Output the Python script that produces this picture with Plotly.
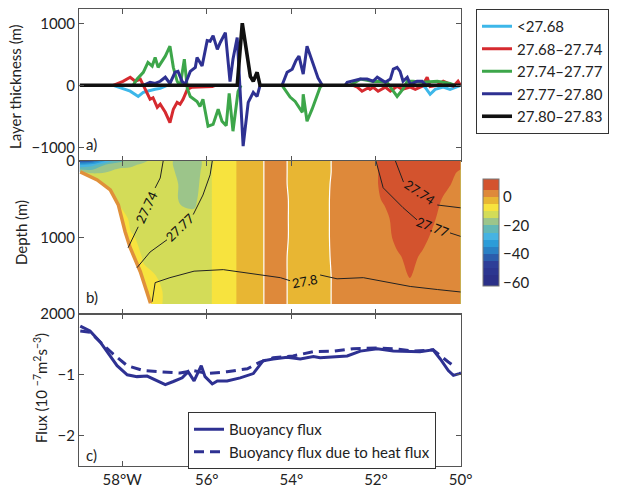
import plotly.graph_objects as go

# ---------------- Panel a: layer thickness (m) ----------------
cyan_lon = [-58.21, -57.81, -57.62, -57.50, -57.41, -57.34, -57.22, -57.10, -56.98, -56.94, None,
            -50.91, -50.84, -50.72, -50.60, -50.41, -50.25, -50.06, -50.0]
cyan_val = [0, -95, -180, -115, -95, -80, -65, -50, -15, 0, None,
            0, -30, -145, -65, -30, -65, -15, 0]

red_lon = [-58.21, -57.98, -57.81, -57.69, -57.57, -57.46, -57.34, -57.27, -57.17, -57.10, -56.98,
           -56.87, -56.79, -56.70, -56.63, -56.56, -56.46, -56.35, -56.20, -55.87, -55.80, None,
           -52.54, -52.44, -52.33, -52.18, -52.14, -52.07, -51.95, -51.78, -51.66, -51.50, -51.38,
           -51.19, -51.07, -50.91, -50.79, -50.72, -50.55, -50.41, -50.29, -50.17, -50.06, -50.0]
red_val = [0, 65, 130, 65, 100, -65, -225, -200, -355, -305, -435,
           -600, -385, -275, -305, -225, -65, -30, -30, -20, 0, None,
           0, -30, -95, -40, -65, -30, -95, -30, -95, -15, -65,
           -30, -65, -15, 130, -20, 0, 65, 30, -15, 65, 0]

green_lon = [-57.74, -57.65, -57.50, -57.39, -57.29, -57.22, -57.15, -57.05, -56.98, -56.87, -56.79,
             -56.70, -56.63, -56.53, -56.46, -56.39, -56.23, -56.16, -56.09, -55.97, -55.85, -55.73,
             -55.64, -55.54, -55.47, -55.38, -55.26, -55.19, None,
             -54.22, -54.03, -53.91, -53.84, -53.74, -53.72, -53.63, -53.51, -53.32, -53.27, None,
             -52.61, -52.37, -52.21, -52.07, -51.90, -51.74, -51.59, -51.50, -51.43, -51.36, -51.26,
             -51.12, -50.91, -50.55, -50.41, -50.25, -50.13]
green_val = [0, 100, 210, 370, 310, 450, 290, 390, 470, 630, 290,
             65, -15, 420, -50, -180, -260, -340, -225, -660, -630, -385,
             -580, -650, -130, -740, -100, 0, None,
             0, -190, -260, -340, -435, -145, -580, -385, -30, 0, None,
             0, 100, 80, 60, 60, 50, -95, -180, -120, -60, 65,
             65, 50, 65, 50, 30, 0]

blue_lon = [-57.50, -57.34, -57.22, -57.10, -56.98, -56.87, -56.75, -56.68, -56.58, -56.51, -56.39,
            -56.27, -56.23, -56.11, -55.99, -55.92, -55.85, -55.75, -55.68, -55.56, -55.45, -55.38,
            -55.28, -55.21, -55.14, -55.02, -54.90, -54.81, -54.74, None,
            -54.22, -54.10, -53.98, -53.89, -53.82, -53.72, -53.63, -53.48, -53.37, -53.27, None,
            -52.73, -52.68, -52.37, -52.21, -52.07, -51.97, -51.90, -51.78, -51.66, -51.59, -51.50,
            -51.43, -51.36, -51.26, -51.19, -51.03, -50.91, -50.84, -50.72]
blue_val = [0, 50, 30, 65, 130, 30, 210, 225, 60, 15, 225,
            290, 450, 310, 720, 710, 800, 580, 690, 850, 60, 420,
            770, -110, -980, -275, -115, -180, 0, None,
            0, 210, 260, 400, 470, 180, 630, 340, 120, 0, None,
            0, 50, 100, 100, 65, 130, 100, 50, 100, 260, 290,
            225, 65, 130, 15, 65, 65, 15, 0]

black_lon = [-59.0, -55.28, -55.16, -55.09, -55.02, -54.97, -54.90, -54.81, -54.74, -50.0]
black_val = [0, 0, 1000, 690, 290, 145, 65, 210, 0, 0]

layer_names = ["<27.68", "27.68\u201327.74", "27.74\u201327.77", "27.77\u201327.80", "27.80\u201327.83"]

# ---------------- Panel b: temperature/anomaly section ----------------
lon_grid = [-59.0, -58.7, -58.4, -58.1, -57.8, -57.5, -57.2, -56.9, -56.6, -56.3, -56.0,
            -55.7, -55.4, -55.1, -54.8, -54.5, -54.2, -53.9, -53.6, -53.3, -53.0,
            -52.7, -52.4, -52.1, -51.8, -51.5, -51.2, -50.9, -50.6, -50.3, -50.0]
depth_grid = [0, 50, 150, 300, 500, 750, 1000, 1250, 1500, 1700, 1870]
# one list per longitude column, from surface to bottom
anom_cols = [
    [-45, -30, -14, -3, -3, -3, -3, -3, -3, -3, -3],
    [-42, -27, -16, -3, -3, -3, -3, -3, -3, -3, -3],
    [-30, -20, -15, -12, -3, -3, -3, -3, -3, -3, -3],
    [-22, -17, -13, -12, -12, -3, -3, -3, -3, -3, -3],
    [-18, -16, -13, -12, -12, -12, -9, -3, -3, -3, -3],
    [-16, -14, -12, -12, -12, -12, -12, -11, -8, -3, -3],
    [-13, -13, -12, -12, -12, -12, -12, -11, -10, -8, -8],
    [-14, -14, -13, -12, -12, -12, -12, -12, -12, -12, -12],
    [-17, -17, -17, -16, -16, -13, -12, -12, -12, -12, -12],
    [-18, -18, -18, -17, -16, -14, -12, -12, -12, -12, -12],
    [-13, -13, -12, -12, -12, -12, -12, -12, -12, -12, -12],
    [-7, -7, -7, -7, -7, -7, -7, -7, -7, -7, -7],
    [-6, -6, -6, -6, -6, -6, -6, -6, -6, -6, -6],
    [-3, -3, -3, -3, -3, -3, -3, -3, -3, -3, -3],
    [-2, -2, -2, -2, -2, -2, -2, -2, -2, -2, -2],
    [2, 2, 2, 2, 2, 2, 2, 2, 2, 2, 2],
    [1, 1, 1, 1, 1.5, 1.5, 1.5, 1, 1, 1, 1],
    [-2, -2, -2, -2, -2, -2, -2, -2, -2, -2, -2],
    [-3, -3, -3, -3, -3, -3, -3, -3, -3, -3, -3],
    [-2, -2, -2, -2, -2, -2, -2, -2, -2, -2, -2],
    [0.5, 0.5, 0.5, 0.8, 1, 1, 1, 0.8, 0.5, 0.5, 0.5],
    [2, 2, 2, 2, 2, 2, 2, 2, 2, 2, 2],
    [3, 3, 3, 3, 3, 3, 3, 3, 3, 3, 3],
    [3.5, 3.5, 3, 3, 2.5, 2, 2, 2, 2, 2, 2],
    [7, 7, 7, 7, 6, 3, 2, 2, 2, 2, 2],
    [8, 8, 8, 8, 8, 8, 7, 4, 2, 2, 2],
    [8, 8, 8, 8, 8, 8, 8, 7, 5.5, 2, 2],
    [8, 8, 8, 8, 8, 8, 7, 4, 2, 2, 2],
    [8, 8, 8, 8, 7, 5.2, 3, 2, 2, 2, 2],
    [8, 8, 7, 6, 3, 2, 2, 2, 2, 2, 2],
    [7, 6.5, 4, 2, 2, 2, 2, 2, 2, 2, 2],
]
anom_levels = [-60, -55, -50, -45, -40, -35, -30, -25, -20, -15, -10, -5, 0, 5, 10]
band_colors = ['#2B3088', '#2C3690', '#2E3E98', '#2B5DAC', '#2A80C4', '#2C9CD8', '#46B3E2',
               '#63B8B5', '#9CC58A', '#D3DC58', '#F7E33E', '#E8B633', '#DE893A', '#D3532E']

# sea floor and the warm water lining it
bathy_lon = [-59.02, -58.99, -58.59, -58.28, -58.09, -57.93, -57.81, -57.57, -57.34, -57.25]
bathy_depth = [140, 143, 248, 378, 574, 925, 1134, 1447, 1838, 2000]
slope_lon = [-58.99, -58.59, -58.28, -58.09, -57.93, -57.81, -57.57, -57.33]
slope_depth = [143, 248, 378, 574, 925, 1134, 1447, 1860]
slope_water_color = '#E0903A'

# isopycnals (depth, m)
iso_2774_l_lon = [-57.86, -57.62, None, -57.22, -57.10, -57.03]
iso_2774_l_dep = [1134, 860, None, 352, 222, 0]
iso_2774_r_lon = [-51.54, -51.35, None, -50.55, -50.07, -50.0]
iso_2774_r_dep = [0, 275, None, 575, 610, 612]
iso_2777_l_lon = [-57.65, -57.34, -56.94, None, -56.32, -56.09, -55.92, -55.87]
iso_2777_l_dep = [1395, 1190, 1030, None, 700, 445, 180, 0]
iso_2777_r_lon = [-52.0, -51.83, -51.36, -51.03, None, -50.25, -50.06, -50.0]
iso_2777_r_dep = [0, 350, 610, 770, None, 940, 980, 985]
iso_278_lon = [-57.29, -57.22, -56.87, -56.3, -55.61, -55.21, -54.74, -54.26, -54.03, None,
               -53.32, -52.92, -52.30, -51.74, -51.19, -50.55, -50.06, -50.0]
iso_278_dep = [1840, 1590, 1525, 1440, 1420, 1450, 1490, 1525, 1565, None,
               1490, 1540, 1525, 1580, 1640, 1680, 1710, 1712]

# ---------------- Panel c: buoyancy flux ----------------
flux_lon = [-58.99, -58.76, -58.52, -58.28, -58.12, -57.88, -57.65, -57.41, -57.17, -56.98, -56.79,
            -56.58, -56.44, -56.30, -56.13, -56.04, -55.87, -55.75, -55.52, -55.21, -54.90, -54.67,
            -54.43, -54.10, -53.79, -53.48, -53.32, -53.01, -52.68, -52.37, -51.97, -51.59, -51.26,
            -50.96, -50.65, -50.48, -50.29, -50.17, -50.03, -49.99]
flux_val = [-0.20, -0.28, -0.46, -0.69, -0.85, -1.00, -1.03, -1.02, -1.10, -1.16, -1.11,
            -1.05, -0.95, -1.10, -0.85, -1.03, -1.15, -1.10, -1.10, -1.05, -0.98, -0.77,
            -0.74, -0.71, -0.74, -0.70, -0.72, -0.70, -0.69, -0.61, -0.57, -0.61, -0.62,
            -0.62, -0.59, -0.74, -0.93, -1.01, -0.98, -0.97]
heat_lon = [-58.99, -58.76, -58.52, -58.21, -57.88, -57.50, -57.10, -56.63, -56.32, -55.99, -55.52,
            -55.04, -54.74, -54.43, -53.96, -53.48, -53.01, -52.54, -51.93, -51.59, -51.12, -50.65,
            -50.29, -50.17]
heat_val = [-0.28, -0.30, -0.46, -0.66, -0.85, -0.93, -0.95, -0.97, -0.93, -0.98, -0.95,
            -0.90, -0.79, -0.72, -0.69, -0.62, -0.61, -0.57, -0.56, -0.57, -0.61, -0.59,
            -0.79, -0.85]

lon_ticks = [-58, -56, -54, -52, -50]
lon_ticktext = ["58\u00b0W", "56\u00b0", "54\u00b0", "52\u00b0", "50\u00b0"]

# ---------------- figure ----------------
W, H = 619, 489
FONT = "Lato"
AX = '#555555'
fig = go.Figure()

layer_series = [(cyan_lon, cyan_val, '#3DB7E9'), (red_lon, red_val, '#D62A2F'),
                (green_lon, green_val, '#3DA64A'), (blue_lon, blue_val, '#2E3192'),
                (black_lon, black_val, '#111111')]
for (lx, ly, col), nm in zip(layer_series, layer_names):
    fig.add_trace(go.Scatter(x=lx, y=ly, mode='lines', name=nm, xaxis='x', yaxis='y',
                             line=dict(color=col, width=3.6 if col == '#111111' else 3),
                             connectgaps=False, legend='legend'))

# colorscale from band colours
lo, hi = anom_levels[0] - 2.5, anom_levels[-1] + 2.5
span = hi - lo
cs = []
edges = [lo] + anom_levels[1:-1] + [hi]
for i, c in enumerate(band_colors):
    cs.append([(edges[i] - lo) / span, c])
    cs.append([(edges[i + 1] - lo) / span, c])

z = [list(r) for r in zip(*anom_cols)]
fig.add_trace(go.Contour(x=lon_grid, y=depth_grid, z=z, xaxis='x2', yaxis='y2',
                         colorscale=cs,
                         contours=dict(start=anom_levels[0], end=anom_levels[-1], size=5,
                                       coloring='fill', showlines=False),
                         line=dict(width=0), hoverinfo='skip', showlegend=False,
                         colorbar=dict(x=483 / W, xanchor='left', y=1 - 232.5 / H, yanchor='middle',
                                       len=107 / H, lenmode='fraction', thickness=16,
                                       xpad=0, ypad=0,
                                       tickvals=[0, -20, -40, -60], ticks='',
                                       outlinewidth=1, outlinecolor='#777',
                                       tickfont=dict(family=FONT, size=15, color='#222'))))
fig.add_trace(go.Contour(x=lon_grid, y=depth_grid, z=z, xaxis='x2', yaxis='y2',
                         contours=dict(start=0, end=0, size=1, coloring='none'),
                         line=dict(color='white', width=1.2), showscale=False,
                         hoverinfo='skip', showlegend=False))
fig.add_trace(go.Scatter(x=bathy_lon + [-59.02], y=bathy_depth + [2000], xaxis='x2', yaxis='y2',
                         fill='toself', fillcolor='white', mode='lines', line=dict(width=0),
                         hoverinfo='skip', showlegend=False))
fig.add_trace(go.Scatter(x=slope_lon, y=slope_depth, xaxis='x2', yaxis='y2', mode='lines',
                         line=dict(color=slope_water_color, width=3.5), hoverinfo='skip',
                         showlegend=False))
for ix, iy in [(iso_2774_l_lon, iso_2774_l_dep), (iso_2774_r_lon, iso_2774_r_dep),
               (iso_2777_l_lon, iso_2777_l_dep), (iso_2777_r_lon, iso_2777_r_dep),
               (iso_278_lon, iso_278_dep)]:
    fig.add_trace(go.Scatter(x=ix, y=iy, xaxis='x2', yaxis='y2', mode='lines',
                             line=dict(color='#222', width=1), connectgaps=False,
                             hoverinfo='skip', showlegend=False))

fig.add_trace(go.Scatter(x=flux_lon, y=flux_val, mode='lines', name='Buoyancy flux',
                         xaxis='x3', yaxis='y3', line=dict(color='#2E3192', width=3),
                         legend='legend2'))
fig.add_trace(go.Scatter(x=heat_lon, y=heat_val, mode='lines', name='Buoyancy flux due to heat flux',
                         xaxis='x3', yaxis='y3', line=dict(color='#2E3192', width=3, dash='10px,6px'),
                         legend='legend2'))

xdom = [79 / W, 461 / W]
xr = [-59.02, -49.99]
common_x = dict(domain=xdom, range=xr, tickvals=lon_ticks, ticks='inside', ticklen=5,
                showline=True, linecolor=AX, tickcolor=AX, showgrid=False, zeroline=False,
                mirror='ticks')
common_y = dict(ticks='inside', ticklen=5, showline=True, linecolor=AX, tickcolor=AX,
                showgrid=False, zeroline=False,
                tickfont=dict(family=FONT, size=15, color='#222'))

ann_font = dict(family=FONT, size=15, color='#222')
annotations = [
    dict(text='a)', x=84 / W, y=1 - 144 / H, xref='paper', yref='paper', showarrow=False,
         xanchor='left', yanchor='middle', font=ann_font),
    dict(text='b)', x=84 / W, y=1 - 297 / H, xref='paper', yref='paper', showarrow=False,
         xanchor='left', yanchor='middle', font=ann_font),
    dict(text='c)', x=84 / W, y=1 - 455 / H, xref='paper', yref='paper', showarrow=False,
         xanchor='left', yanchor='middle', font=ann_font),
    dict(text='Layer thickness (m)', x=15 / W, y=1 - 87 / H, xref='paper', yref='paper',
         xanchor='center', yanchor='middle', showarrow=False, textangle=-90, font=ann_font),
    dict(text='Depth (m)', x=21 / W, y=1 - 233 / H, xref='paper', yref='paper',
         xanchor='center', yanchor='middle', showarrow=False, textangle=-90, font=ann_font),
    dict(text='Flux (10 <sup>\u22127</sup>m<sup>2</sup>s<sup>\u22123</sup>)', x=40 / W, y=1 - 388 / H,
         xref='paper', yref='paper', xanchor='center', yanchor='middle',
         showarrow=False, textangle=-90, font=ann_font),
]
iso_font = dict(family=FONT, size=13, color='#111')
for txt, lx, ly, ang in [('27.74', -57.42, 606, -65), ('27.77', -56.63, 865, -44),
                         ('27.74', -50.97, 410, 34), ('27.77', -50.65, 860, 21),
                         ('27.8', -53.67, 1575, -10)]:
    annotations.append(dict(text=txt, x=lx, y=ly, xref='x2', yref='y2', showarrow=False,
                            textangle=ang, font=iso_font))

fig.update_layout(
    width=W, height=H, margin=dict(l=0, r=0, t=0, b=0, autoexpand=False),
    paper_bgcolor='white', plot_bgcolor='white',
    font=dict(family=FONT, size=15, color='#222'),
    xaxis=dict(common_x, anchor='y', showticklabels=False),
    yaxis=dict(common_y, domain=[1 - 161 / H, 1 - 9 / H], range=[-1220, 1230], anchor='x',
               tickvals=[-1000, 0, 1000], ticktext=['\u22121000', '0', '1000'], mirror='ticks'),
    xaxis2=dict(common_x, anchor='y2', showticklabels=False),
    yaxis2=dict(common_y, domain=[1 - 314 / H, 1 - 161 / H], range=[2000, 0], anchor='x2',
                tickvals=[0, 1000, 2000], ticktext=['0', '1000', '2000']),
    xaxis3=dict(common_x, anchor='y3', ticktext=lon_ticktext,
                tickfont=dict(family=FONT, size=15, color='#222')),
    yaxis3=dict(common_y, domain=[1 - 466 / H, 1 - 314 / H], range=[-2.5, 0], anchor='x3',
                tickvals=[-2, -1], ticktext=['\u22122', '\u22121'], mirror='ticks'),
    legend=dict(x=476 / W, y=1 - 9 / H, xanchor='left', yanchor='top', bordercolor='#333',
                borderwidth=1, bgcolor='white', font=dict(family=FONT, size=15, color='#222'),
                tracegroupgap=0),
    legend2=dict(x=188 / W, y=1 - 440.5 / H, xanchor='left', yanchor='middle', bordercolor='#333',
                 borderwidth=1, bgcolor='white', font=dict(family=FONT, size=15, color='#222'),
                 tracegroupgap=0),
    annotations=annotations,
    showlegend=True,
)

fig.write_html("out.html")
